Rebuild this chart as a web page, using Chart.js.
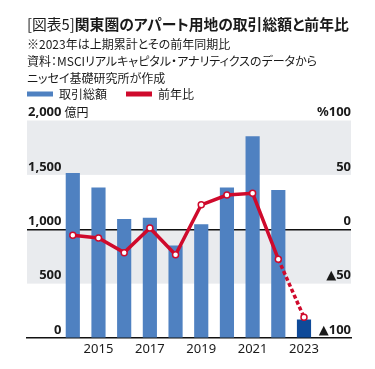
<!DOCTYPE html>
<html lang="ja">
<head>
<meta charset="utf-8">
<script src="https://cdn.jsdelivr.net/npm/chart.js@4.4.1/dist/chart.umd.min.js"></script>
<style>
  html, body { margin: 0; padding: 0; background: #fff; }
  #wrap { position: relative; width: 375px; height: 369px; overflow: hidden;
    font-family: "Noto Sans CJK JP", sans-serif; color: #1a1a1a; font-feature-settings: "palt"; }
  .head { position: absolute; left: 27px; white-space: nowrap; }
  #title { top: 14px; font-size: 14.8px; line-height: 20px; font-weight: 700; }
  #title span { font-weight: 400; }
  .note { font-size: 12px; line-height: 17px; }
  canvas { position: absolute; left: 0; top: 0; }
</style>
</head>
<body>
<div id="wrap">
  <canvas id="chart" width="375" height="369"></canvas>
  <div class="head" id="title"><span>[図表5]</span>関東圏のアパート用地の取引総額と前年比</div>
  <div class="head note" style="top:35px">※2023年は上期累計とその前年同期比</div>
  <div class="head note" style="top:52px">資料：MSCIリアルキャピタル・アナリティクスのデータから</div>
  <div class="head note" style="top:69px">ニッセイ基礎研究所が作成</div>
</div>
<script>
// data
const years = [2014, 2015, 2016, 2017, 2018, 2019, 2020, 2021, 2022, 2023];
const totalValues = [1515, 1381, 1091, 1103, 847, 1043, 1381, 1851, 1357, 167]; // 億円
const yoyValues = [-5.5, -8, -21.5, 1.2, -23.5, 22.5, 31.5, 33, -27.5, -81]; // %
const leftTicks = [0, 500, 1000, 1500, 2000];
const rightTicks = [-100, -50, 0, 50, 100];
const yearTicks = [2015, 2017, 2019, 2021, 2023];
const bandRanges = [[1500, 2000], [500, 1000]];
const unitLabel = "億円";

const blue = "#4f81c1";
const darkBlue = "#0f4a99";
const red = "#cf0a2c";
const ink = "#1a1a1a";
const numFont = '"Noto Sans", "DejaVu Sans", sans-serif';

// grey bands behind the plot
const bandPlugin = {
  id: "bands",
  beforeDraw(chart) {
    const { ctx, chartArea } = chart;
    const y = chart.scales.y;
    ctx.save();
    ctx.fillStyle = "#e9ebee";
    bandRanges.forEach(([lo, hi]) => {
      const top = y.getPixelForValue(hi);
      const bottom = y.getPixelForValue(lo);
      ctx.fillRect(chartArea.left, top, chartArea.right - chartArea.left, bottom - top);
    });
    ctx.restore();
  },
};

// unit text next to the top left tick
const unitPlugin = {
  id: "unit",
  afterDraw(chart) {
    const { ctx } = chart;
    const y = chart.scales.y;
    ctx.save();
    ctx.font = "bold 13px " + numFont;
    const w = ctx.measureText("2,000").width;
    ctx.font = '12px "Noto Sans CJK JP"';
    ctx.fillStyle = ink;
    ctx.textBaseline = "middle";
    ctx.fillText(unitLabel, y.right + 1 + w + 3, y.getPixelForValue(2000) - 8);
    ctx.restore();
  },
};

// room between legend and plot
const legendGap = {
  id: "legendGap",
  beforeInit(chart) {
    const fit = chart.legend.fit;
    chart.legend.fit = function () {
      fit.bind(chart.legend)();
      this.height += 10.5;
    };
  },
};

const ctx = document.getElementById("chart").getContext("2d");
const chart = new Chart(ctx, {
  type: "bar",
  data: {
    datasets: [
      {
        label: "取引総額",
        data: years.map((yr, i) => ({ x: yr, y: totalValues[i] })),
        backgroundColor: (c) => (c.dataIndex === years.length - 1 ? darkBlue : blue),
        barThickness: 13.5,
        yAxisID: "y",
        order: 1,
      },
      {
        type: "line",
        label: "前年比",
        data: years.map((yr, i) => ({ x: yr, y: yoyValues[i] })),
        yAxisID: "y1",
        borderColor: red,
        backgroundColor: red,
        borderWidth: 3.5,
        tension: 0,
        pointRadius: 3,
        pointBackgroundColor: "#fff",
        pointBorderColor: red,
        pointBorderWidth: 1.5,
        segment: {
          borderDash: (c) => (c.p1DataIndex === years.length - 1 ? [4, 2.5] : undefined),
        },
        order: 0,
      },
    ],
  },
  options: {
    responsive: false,
    animation: false,
    layout: { padding: { left: 8, right: 24, top: 69, bottom: 13 } },
    plugins: {
      tooltip: { enabled: false },
      legend: {
        position: "top",
        align: "start",
        labels: {
          boxWidth: 26,
          boxHeight: 5,
          padding: 19,
          color: ink,
          font: { family: '"Noto Sans CJK JP"', size: 12 },
          generateLabels(chart) {
            const items = Chart.defaults.plugins.legend.labels.generateLabels(chart);
            items.forEach((it) => {
              it.lineWidth = 0;
              it.strokeStyle = "transparent";
            });
            return items.sort((a, b) => a.datasetIndex - b.datasetIndex);
          },
        },
      },
    },
    scales: {
      x: {
        type: "linear",
        min: 2012.217,
        max: 2024.83,
        offset: false,
        afterBuildTicks(scale) {
          scale.ticks = yearTicks.map((v) => ({ value: v }));
        },
        afterFit(scale) {
          scale.height = 18;
        },
        ticks: {
          callback: (v) => String(v),
          color: ink,
          font: { family: numFont, size: 13 },
          padding: 3,
          maxRotation: 0,
          autoSkip: false,
        },
        grid: { display: false, drawTicks: false },
        border: { display: true, color: "#111", width: 1.5 },
      },
      y: {
        position: "left",
        min: 0,
        max: 2000,
        z: 1,
        afterBuildTicks(scale) {
          scale.ticks = leftTicks.map((v) => ({ value: v }));
        },
        afterFit(scale) {
          scale.width = 19;
        },
        ticks: {
          mirror: true,
          crossAlign: "far",
          padding: 1,
          labelOffset: -8,
          color: ink,
          font: { family: numFont, size: 13, weight: "bold" },
          callback: (v) => v.toLocaleString("en-US"),
        },
        grid: {
          drawTicks: false,
          lineWidth: 1.5,
          color: (c) => (c.tick && c.tick.value === 1000 ? "#111" : "rgba(0,0,0,0)"),
        },
        border: { display: false },
      },
      y1: {
        position: "right",
        min: -100,
        max: 100,
        afterBuildTicks(scale) {
          scale.ticks = rightTicks.map((v) => ({ value: v }));
        },
        afterFit(scale) {
          scale.width = 0;
        },
        ticks: {
          mirror: true,
          padding: 0,
          labelOffset: -8,
          color: ink,
          font: { family: numFont, size: 13, weight: "bold" },
          callback: (v) => (v === 100 ? "%100" : v < 0 ? "▲" + -v : String(v)),
        },
        grid: { display: false, drawTicks: false },
        border: { display: false },
      },
    },
  },
  plugins: [bandPlugin, unitPlugin, legendGap],
});
</script>
</body>
</html>
